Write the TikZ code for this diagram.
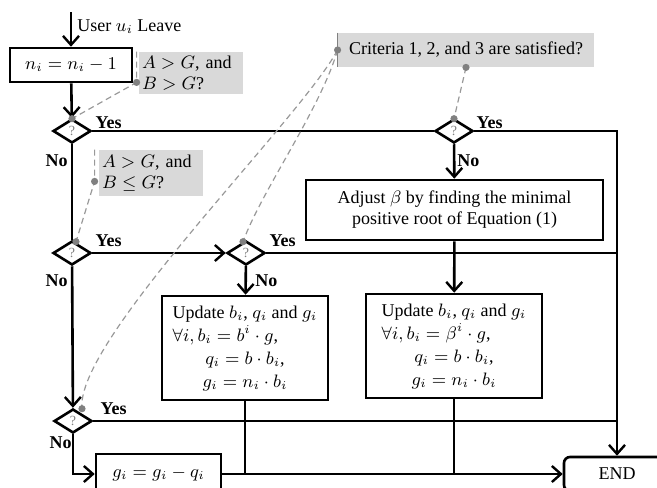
\documentclass[tikz,border=0pt]{standalone}
\usepackage{fontspec}
\setmainfont{Liberation Serif}
\usetikzlibrary{positioning,shapes.geometric,arrows.meta}

\tikzset{
  stepbox/.style={draw, line width=1.3pt, inner sep=0pt, align=center},
  test/.style={diamond, draw, line width=1.3pt, inner sep=0pt,
    minimum width=19pt, minimum height=12pt,
    font=\fontsize{7}{7}\selectfont, text=gray},
  note/.style={fill=black!15, inner xsep=1.5pt, inner ysep=0pt, align=left},
  ans/.style={font=\fontsize{9}{10}\selectfont\bfseries, inner sep=0pt},
  flow/.style={line width=1.3pt, -{Straight Barb[length=4.5pt,width=8pt,line width=1.2pt]}},
  wire/.style={line width=1.3pt},
  hint/.style={gray!80, line width=0.6pt, dash pattern=on 3pt off 2pt},
}

\begin{document}
\begin{tikzpicture}[x=0.5pt, y=-0.5pt, font=\fontsize{9}{10.5}\selectfont]
  \useasboundingbox (0,0) rectangle (657,487);

  % flow nodes
  \coordinate (start) at (71,12);
  \node[anchor=west, inner sep=0pt] (leave) at (77,27) {User $u_i$ Leave};
  \node[stepbox, minimum width=61pt, minimum height=17pt] (dec) at (71,65) {$n_i = n_i - 1$};
  \node[test] (q1) at (72,131) {?};
  \node[test] (q2) at (72,253) {?};
  \node[test] (q3) at (246,253) {?};
  \node[test] (q4) at (454,131) {?};
  \node[test] (q5) at (73,421) {?};
  \node[stepbox, minimum width=148.5pt, minimum height=30pt] (adj) at (454.5,210)
    {Adjust $\beta$ by finding the minimal\\positive root of Equation (1)};
  \node[stepbox, minimum width=83pt, minimum height=52pt] (upd1) at (245,348)
    {\fontsize{9}{11.5}\selectfont
     \begin{tabular}{@{}l@{}}
       Update $b_i$, $q_i$ and $g_i$\\
       $\forall i, b_i = b^i \cdot g$,\\
       \multicolumn{1}{@{}c@{}}{$q_i = b \cdot b_i$,}\\
       \multicolumn{1}{@{}c@{}}{$g_i = n_i \cdot b_i$}
     \end{tabular}};
  \node[stepbox, minimum width=88pt, minimum height=52pt] (upd2) at (454,346)
    {\fontsize{9}{11.5}\selectfont
     \begin{tabular}{@{}l@{}}
       Update $b_i$, $q_i$ and $g_i$\\
       $\forall i, b_i = \beta^i \cdot g$,\\
       \multicolumn{1}{@{}c@{}}{$q_i = b \cdot b_i$,}\\
       \multicolumn{1}{@{}c@{}}{$g_i = n_i \cdot b_i$}
     \end{tabular}};
  \node[stepbox, minimum width=62.5pt, minimum height=20pt] (sub) at (158.5,474) {$g_i = g_i - q_i$};
  \node[stepbox, rounded corners=3pt, minimum width=53pt, minimum height=17pt] (end) at (617,474) {END};

  % notes
  \node[note, text width=49pt, minimum height=21pt] (cond1) at (191,73) {$A > G$, and\\$B > G$?};
  \node[note, text width=49pt, minimum height=23pt] (cond2) at (151,173) {$A > G$, and\\$B \leq G$?};
  \node[note, minimum width=128pt, minimum height=17pt] (crit) at (466,50) {Criteria 1, 2, and 3 are satisfied?};

  % yes / no
  \node[ans, above right=1pt and 1.5pt of q1.east] (y1) {Yes};
  \node[ans, above right=3pt and 1.5pt of q2.east] (y2) {Yes};
  \node[ans, above right=3pt and 1.5pt of q3.east] (y3) {Yes};
  \node[ans, above right=1pt and 1pt of q4.east] (y4) {Yes};
  \node[ans, above right=3pt and 3.5pt of q5.east] (y5) {Yes};
  \node[ans, below left=5pt and 2pt of q1.south] (n1) {No};
  \node[ans, below left=4pt and 2pt of q2.south] (n2) {No};
  \node[ans, below right=4pt and 4.5pt of q3.south] (n3) {No};
  \node[ans, below right=5pt and 1.5pt of q4.south] (n4) {No};
  \node[ans, below left=1pt and 0.5pt of q5.south] (n5) {No};

  % connectors
  \draw[flow] (start) -- (dec);
  \draw[flow] (dec) -- (q1);
  \draw[wire] (q1) -- (q4);
  \draw[flow] (q4.east) -| (end.north);
  \draw[flow] (q4) -- (adj);
  \draw[flow] (adj) -- (upd2);
  \draw[wire] (q1) -- (q2);
  \draw[flow] (q2) -- (q3);
  \draw[wire] (q3.east) -- (q3.east -| end.north);
  \draw[flow] (q3) -- (upd1);
  \draw[flow] (q2) -- (q5);
  \draw[wire] (q5.east) -- (q5.east -| end.north);
  \draw[flow] (q5.south) |- (sub.west);
  \draw[flow] (sub.east) -- (end.west);
  \draw[wire] (upd1.south) -- (upd1.south |- sub.east);
  \draw[wire] (upd2.south) -- (upd2.south |- sub.east);

  % dashed hints
  \coordinate (pin1) at ([xshift=-1pt,yshift=6pt]cond1.south west);
  \coordinate (pin2) at ([xshift=-2pt,yshift=7.5pt]cond2.south west);
  \coordinate (pin3) at (crit.south);
  \coordinate (pin4) at (crit.west);
  \coordinate (dot1) at ([yshift=-0.5pt]q1.north);
  \coordinate (dot2) at ([xshift=2pt,yshift=-1pt]q2.north);
  \coordinate (dot3) at ([xshift=-1.5pt,yshift=-1pt]q3.north);
  \coordinate (dot4) at ([yshift=-0.5pt]q4.north);
  \coordinate (dot5) at ([xshift=4.5pt,yshift=-0.5pt]q5.north);
  \draw[hint] ([xshift=-1pt]cond1.north west) -- (pin1) -- (dot1);
  \draw[hint] ([xshift=-2pt]cond2.north west) -- (pin2) -- (dot2);
  \draw[gray, line width=0.5pt] (crit.north west) -- (crit.south west);
  \draw[hint] (pin3) -- (dot4);
  \draw[hint] (pin4) .. controls (320,110) and (262,190) .. (dot3);
  \draw[hint] (pin4) .. controls (300,120) and (75,340) .. (dot5);
  \foreach \p in {pin1,pin2,pin3,pin4,dot1,dot2,dot3,dot4,dot5}
    \fill[gray] (\p) circle (1.8pt);
\end{tikzpicture}
\end{document}
